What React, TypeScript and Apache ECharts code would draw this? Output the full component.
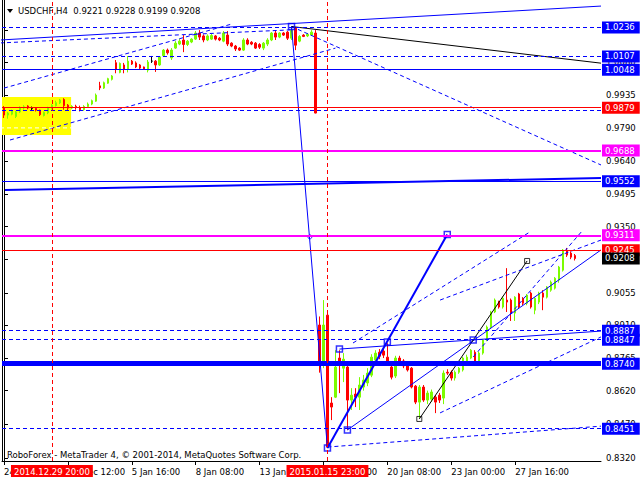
import React, { useEffect, useRef } from "react";
import * as echarts from "echarts";

// ---------- DATA ----------
const TITLE = "USDCHF,H4  0.9221 0.9228 0.9199 0.9208";
const FOOTER = "RoboForex - MetaTrader 4, \u00A9 2001-2014, MetaQuotes Software Corp.";

// H4 candles, index = bar number: [open, close, low, high]
const CANDLES: number[][] = [
  [0.9877, 0.9846, 0.9833, 0.9886], [0.9846, 0.9855, 0.983, 0.986], [0.985, 0.9864, 0.9845, 0.987], [0.984, 0.986, 0.9833, 0.9865],
  [0.986, 0.988, 0.9855, 0.9885], [0.9878, 0.9883, 0.987, 0.989], [0.9886, 0.9878, 0.9872, 0.989], [0.9875, 0.9875, 0.9864, 0.9884],
  [0.9876, 0.9868, 0.9862, 0.988], [0.9868, 0.9848, 0.9842, 0.987], [0.9844, 0.9858, 0.984, 0.9862], [0.9856, 0.9878, 0.985, 0.9883],
  [0.9876, 0.989, 0.987, 0.9895], [0.9888, 0.9901, 0.9884, 0.991], [0.99, 0.9913, 0.9895, 0.9918], [0.9915, 0.9888, 0.987, 0.9921],
  [0.989, 0.9877, 0.9868, 0.9895], [0.9877, 0.9885, 0.9872, 0.989], [0.9885, 0.9879, 0.987, 0.9892], [0.988, 0.987, 0.9862, 0.9888],
  [0.987, 0.9884, 0.9865, 0.989], [0.9884, 0.9895, 0.988, 0.9902], [0.9895, 0.991, 0.989, 0.9915], [0.9908, 0.9935, 0.9905, 0.9942],
  [0.9976, 0.9967, 0.9957, 0.9994], [0.9966, 0.999, 0.9962, 0.9995], [0.9988, 1.0008, 0.9985, 1.0012], [1.0005, 1.002, 1.0, 1.0024],
  [1.0079, 1.0049, 1.0032, 1.0091], [1.0036, 1.0076, 1.0032, 1.008], [1.0069, 1.005, 1.0032, 1.0078], [1.0049, 1.0086, 1.0036, 1.0109],
  [1.0086, 1.0073, 1.0069, 1.0091], [1.0078, 1.006, 1.0055, 1.0085], [1.0069, 1.0055, 1.005, 1.0073], [1.006, 1.005, 1.0047, 1.0062],
  [1.0046, 1.0082, 1.0036, 1.0091], [1.0086, 1.0086, 1.0078, 1.0109], [1.0086, 1.0069, 1.0038, 1.0091], [1.0069, 1.0105, 1.0065, 1.0109],
  [1.011, 1.0135, 1.0105, 1.014], [1.0135, 1.0123, 1.0115, 1.0142], [1.01, 1.0135, 1.0091, 1.0144], [1.0144, 1.0166, 1.014, 1.0175],
  [1.0162, 1.0175, 1.0157, 1.0184], [1.018, 1.016, 1.0126, 1.0202], [1.016, 1.0175, 1.0153, 1.018], [1.0171, 1.0184, 1.0166, 1.0188],
  [1.0184, 1.0211, 1.018, 1.022], [1.0211, 1.0193, 1.018, 1.0224], [1.0198, 1.018, 1.017, 1.0205], [1.018, 1.0198, 1.0175, 1.0205],
  [1.0184, 1.02, 1.018, 1.0207], [1.0198, 1.0184, 1.0178, 1.0202], [1.0188, 1.018, 1.0175, 1.0193], [1.0175, 1.0211, 1.017, 1.022],
  [1.0202, 1.0162, 1.0153, 1.022], [1.0166, 1.0153, 1.0148, 1.017], [1.0153, 1.014, 1.0131, 1.0158], [1.0144, 1.0135, 1.0131, 1.0148],
  [1.0135, 1.018, 1.0131, 1.0188], [1.018, 1.0162, 1.0157, 1.0188], [1.017, 1.0162, 1.0157, 1.0175], [1.0166, 1.0144, 1.014, 1.0171],
  [1.016, 1.0148, 1.014, 1.0166], [1.0144, 1.0166, 1.0135, 1.0171], [1.0162, 1.018, 1.0153, 1.0188], [1.018, 1.0211, 1.0175, 1.0215],
  [1.0211, 1.0193, 1.018, 1.0224], [1.0193, 1.0211, 1.0188, 1.0215], [1.0211, 1.0202, 1.0198, 1.0215], [1.0215, 1.0188, 1.018, 1.022],
  [1.0188, 1.0224, 1.018, 1.0238], [1.0233, 1.0157, 1.0135, 1.0238], [1.0175, 1.0196, 1.017, 1.0202], [1.0202, 1.0196, 1.0193, 1.0206],
  [1.0198, 1.0206, 1.0193, 1.0211], [1.0202, 1.0215, 1.0198, 1.0224], [1.0211, 0.9855, 0.9854, 1.0224], [0.8912, 0.874, 0.87, 0.895],
  [0.8735, 0.8912, 0.872, 0.9023], [0.8956, 0.8369, 0.8364, 0.897], [0.8565, 0.8547, 0.8489, 0.8591], [0.8591, 0.8725, 0.8587, 0.88],
  [0.8765, 0.8742, 0.8609, 0.88], [0.872, 0.876, 0.8658, 0.8787], [0.8725, 0.8578, 0.8445, 0.873], [0.8578, 0.86, 0.8534, 0.8631],
  [0.8605, 0.8591, 0.8547, 0.8631], [0.8591, 0.8645, 0.8534, 0.868], [0.8636, 0.8667, 0.862, 0.869], [0.8654, 0.8698, 0.864, 0.872],
  [0.8689, 0.8769, 0.868, 0.8782], [0.8756, 0.8787, 0.8745, 0.88], [0.8791, 0.8773, 0.876, 0.8805], [0.8796, 0.8778, 0.8765, 0.881],
  [0.8769, 0.8742, 0.8738, 0.8831], [0.8725, 0.868, 0.867, 0.8735], [0.8685, 0.8765, 0.8676, 0.8775], [0.8765, 0.8745, 0.8735, 0.8775],
  [0.8752, 0.873, 0.872, 0.876], [0.873, 0.8712, 0.8705, 0.874], [0.872, 0.8636, 0.863, 0.8725], [0.864, 0.8569, 0.856, 0.8645],
  [0.8569, 0.8636, 0.8498, 0.8645], [0.8636, 0.8578, 0.857, 0.8645], [0.8578, 0.8609, 0.856, 0.862], [0.8582, 0.8614, 0.857, 0.8625],
  [0.8591, 0.8569, 0.852, 0.86], [0.86, 0.8578, 0.8565, 0.861], [0.8587, 0.8698, 0.856, 0.871], [0.8702, 0.8698, 0.869, 0.8715],
  [0.8702, 0.8676, 0.8665, 0.871], [0.8676, 0.8702, 0.8665, 0.871], [0.8702, 0.872, 0.8695, 0.8725], [0.8712, 0.8765, 0.8705, 0.877],
  [0.8742, 0.8769, 0.873, 0.878], [0.8765, 0.88, 0.876, 0.8805], [0.8791, 0.8747, 0.874, 0.88], [0.875, 0.8787, 0.874, 0.8795],
  [0.8787, 0.8845, 0.878, 0.885], [0.8845, 0.8903, 0.884, 0.891], [0.8903, 0.897, 0.8895, 0.8975], [0.897, 0.9023, 0.8965, 0.903],
  [0.9014, 0.8992, 0.8985, 0.902], [0.8992, 0.9031, 0.8985, 0.904], [0.9023, 0.9014, 0.897, 0.9165], [0.9023, 0.8965, 0.893, 0.903],
  [0.8965, 0.9036, 0.893, 0.904], [0.905, 0.8992, 0.8985, 0.9055], [0.9031, 0.9009, 0.9, 0.9036], [0.9009, 0.9045, 0.9, 0.905],
  [0.9054, 0.8992, 0.8985, 0.906], [0.8978, 0.9031, 0.896, 0.9036], [0.9014, 0.9054, 0.9005, 0.906], [0.9054, 0.9036, 0.8978, 0.9067],
  [0.9036, 0.9081, 0.903, 0.9085], [0.9067, 0.9103, 0.906, 0.911], [0.9076, 0.912, 0.907, 0.9125], [0.9112, 0.917, 0.91, 0.9175],
  [0.9156, 0.9245, 0.915, 0.925], [0.9245, 0.9223, 0.9215, 0.9255], [0.9232, 0.9214, 0.9205, 0.924], [0.9221, 0.9208, 0.9199, 0.9228],
];

const X_TICKS = [0, 16, 32, 48, 64, 80, 96, 112, 128];
const X_TICK_LABELS = ["24 Dec 2014", "30 Dec 12:00", "5 Jan 16:00", "8 Jan 08:00", "13 Jan 00:00", "15 Jan 16:00", "20 Jan 08:00", "23 Jan 00:00", "27 Jan 16:00"];
const Y_TICKS = [0.832, 0.847, 0.862, 0.8765, 0.891, 0.9055, 0.9205, 0.935, 0.9495, 0.964, 0.979, 0.9935, 1.008, 1.0225];

// vertical time markers
const VLINE_BARS = [12, 81];
const VLINE_LABELS = ["2014.12.29 20:00", "2015.01.15 23:00"];

// horizontal price levels
const LEVEL_VALUES = [1.0236, 1.0107, 1.0048, 0.9879, 0.9868, 0.9688, 0.9552, 0.9311, 0.9245, 0.9208, 0.8887, 0.8847, 0.874, 0.8451];
const LEVEL_KINDS = ["blueDash", "blueDash", "blue", "red", "blueDashHidden", "magenta", "blue", "magenta", "red", "bid", "blueDash", "blueDash", "blueThick", "blueDash"];
const LEVEL_FROM: (number | null)[] = [null, null, null, null, null, null, null, null, null, 143, null, null, null, null];

// trend lines: [[bar, price], [bar, price]]
const TREND_POINTS: number[][][] = [
  [[-1, 1.018], [149.5, 1.0331]],
  [[-1, 1.0167], [71.6, 1.0225]],
  [[0, 0.9966], [57, 1.0251]],
  [[1.5, 0.9735], [83, 1.0144]],
  [[72, 1.024], [81, 0.8365]],
  [[72, 1.024], [149.5, 0.9624]],
  [[72, 1.024], [149.5, 1.0077]],
  [[0.25, 0.9513], [149.5, 0.9566]],
  [[81, 0.8365], [111, 0.9315]],
  [[84, 0.8805], [149.5, 0.8885]],
  [[86, 0.8445], [149.5, 0.9246]],
  [[104, 0.8494], [131, 0.9197]],
  [[81, 0.8369], [149.5, 0.8462]],
  [[87.4, 0.8832], [131.7, 0.9326]],
  [[109.2, 0.9023], [149.5, 0.929]],
  [[117.5, 0.877], [145, 0.9335]],
  [[109.2, 0.8521], [149.5, 0.8859]],
  [[-1, 0.9789], [16.8, 0.9789]],
];
const TREND_KINDS = ["blue", "blueDash", "blueDash", "blueDash", "blue", "blueDash", "black", "blue2", "blue2", "blue", "blue", "black", "blueDash", "blueDash", "blueDash", "blueDash", "blueDash", "whiteDash"];

// object anchor points
const BLUE_ANCHORS = [[72, 1.024], [81, 0.8365], [111, 0.9315], [84, 0.8805], [96, 0.8836], [86, 0.8445], [117.5, 0.8845]];
const BLACK_ANCHORS = [[104, 0.8494], [131, 0.9197]];
const CIRCLE_ANCHORS = [[76.6, 0.9304]];

// highlighted zone (yellow rectangle)
const ZONE = [[-1, 0.9757], [16.8, 0.9926]];

// ---------- STYLE ----------
const BLUE = "#0000FF";
const RED = "#FF0000";
const MAGENTA = "#FF00FF";
const GREEN = "#7CFC00";
const FONT = "DejaVu Sans";
const FS = 8.5;
const X_MIN = -0.5;
const X_MAX = 149.5;
const Y_MIN = 0.8307;
const Y_MAX = 1.0358;

const LEVEL_STYLE: Record<string, any> = {
  blueDash: { line: { color: BLUE, width: 1, type: [4, 3] }, bg: BLUE },
  blueDashHidden: { line: { color: BLUE, width: 1, type: [4, 3] }, bg: null },
  blue: { line: { color: BLUE, width: 1, type: "solid" }, bg: BLUE },
  blueThick: { line: { color: BLUE, width: 5, type: "solid" }, bg: BLUE },
  red: { line: { color: RED, width: 1, type: "solid" }, bg: RED },
  magenta: { line: { color: MAGENTA, width: 2, type: "solid" }, bg: MAGENTA },
  bid: { line: { color: "rgba(0,0,0,0)", width: 0.1, type: "solid" }, bg: "#000" },
};

const TREND_STYLE: Record<string, any> = {
  blue: { color: BLUE, width: 1, type: "solid" },
  blue2: { color: BLUE, width: 2, type: "solid" },
  blueDash: { color: BLUE, width: 1, type: [4, 3] },
  black: { color: "#000", width: 1, type: "solid" },
  whiteDash: { color: "#FFFFFF", width: 1, type: [4, 3] },
};

function buildOption(): any {
  const candleData = CANDLES.map((c, i) => {
    const item: any = { value: [i, c[0], c[1], c[2], c[3]] };
    if (c[0] === c[1]) {
      item.itemStyle = { color: "#000", color0: "#000", borderColor: "#000", borderColor0: "#000" };
    }
    return item;
  });

  const levelLines: any[] = LEVEL_VALUES.map((v, i) => {
    const st = LEVEL_STYLE[LEVEL_KINDS[i]];
    const label = st.bg
      ? {
          show: true,
          position: "end",
          distance: 1,
          formatter: v.toFixed(4),
          color: "#fff",
          opacity: 1,
          fontFamily: FONT,
          fontSize: FS,
          backgroundColor: st.bg,
          padding: [2, 5, 1, 3],
        }
      : { show: false };
    const from = LEVEL_FROM[i];
    if (from == null) {
      return { yAxis: v, lineStyle: st.line, label };
    }
    return [
      { coord: [from, v], lineStyle: st.line, label },
      { coord: [X_MAX, v] },
    ];
  });

  const vLines: any[] = VLINE_BARS.map((b, i) => ({
    xAxis: b,
    lineStyle: { color: RED, width: 1, type: [4, 3] },
    label: {
      show: true,
      position: "start",
      distance: 4,
      formatter: VLINE_LABELS[i],
      color: "#fff",
      fontFamily: FONT,
      fontSize: FS,
      backgroundColor: RED,
      padding: [2, 3, 1, 3],
    },
  }));

  const trendSeries = TREND_POINTS.map((pts, i) => ({
    type: "line",
    data: pts,
    symbol: "none",
    silent: true,
    z: 3,
    lineStyle: TREND_STYLE[TREND_KINDS[i]],
    animation: false,
  }));

  return {
    animation: false,
    backgroundColor: "#fff",
    grid: { left: 2, right: 39, top: 0, bottom: 19, containLabel: false, outerBoundsMode: "none" },
    xAxis: {
      type: "value",
      min: X_MIN,
      max: X_MAX,
      splitLine: { show: false },
      axisLine: { show: true, onZero: false, lineStyle: { color: "#000", width: 1 } },
      axisTick: { show: true, length: 4, customValues: X_TICKS, lineStyle: { color: "#000" } },
      axisLabel: {
        customValues: X_TICKS,
        formatter: (v: number) => {
          const k = X_TICKS.indexOf(Math.round(v));
          return k >= 0 ? X_TICK_LABELS[k] : "";
        },
        align: "left",
        margin: 6,
        color: "#000",
        fontFamily: FONT,
        fontSize: FS,
      },
    },
    yAxis: [
      {
        type: "value",
        position: "right",
        min: Y_MIN,
        max: Y_MAX,
        splitLine: { show: false },
        axisLine: { show: true, lineStyle: { color: "#000", width: 1 } },
        axisTick: { show: true, length: 4, customValues: Y_TICKS, lineStyle: { color: "#000" } },
        axisLabel: {
          customValues: Y_TICKS,
          formatter: (v: number) => v.toFixed(4),
          margin: 5,
          color: "#000",
          fontFamily: FONT,
          fontSize: FS,
        },
      },
      {
        type: "value",
        position: "left",
        min: Y_MIN,
        max: Y_MAX,
        splitLine: { show: false },
        axisLine: { show: true, lineStyle: { color: "#000", width: 1 } },
        axisTick: { show: false },
        axisLabel: { show: false },
      },
    ],
    series: [
      {
        type: "candlestick",
        data: candleData,
        barWidth: 2,
        z: 2,
        silent: true,
        itemStyle: {
          color: GREEN,
          color0: RED,
          borderColor: GREEN,
          borderColor0: RED,
          borderColorDoji: "#000",
          borderWidth: 1,
        },
        markArea: {
          silent: true,
          itemStyle: { color: "#FFFF00", opacity: 1 },
          data: [[{ coord: ZONE[0] }, { coord: ZONE[1] }]],
        },
        markLine: {
          silent: true,
          symbol: ["none", "none"],
          precision: 4,
          animation: false,
          z: 5,
          data: [...levelLines, ...vLines],
        },
      },
      ...trendSeries,
      {
        type: "scatter",
        data: BLUE_ANCHORS,
        symbol: "rect",
        symbolSize: 6,
        z: 4,
        silent: true,
        itemStyle: { color: "rgba(255,255,255,0)", borderColor: BLUE, borderWidth: 1.5 },
      },
      {
        type: "scatter",
        data: BLACK_ANCHORS,
        symbol: "rect",
        symbolSize: 5,
        z: 4,
        silent: true,
        itemStyle: { color: "rgba(255,255,255,0)", borderColor: "#000", borderWidth: 1 },
      },
      {
        type: "scatter",
        data: CIRCLE_ANCHORS,
        symbol: "circle",
        symbolSize: 4,
        z: 4,
        silent: true,
        itemStyle: { color: "rgba(255,255,255,0)", borderColor: BLUE, borderWidth: 1 },
      },
    ],
    graphic: [
      { type: "polygon", z: 10, shape: { points: [[7, 9], [13, 9], [10, 13]] }, style: { fill: "#000" } },
      { type: "text", z: 10, left: 18, top: 6, style: { text: TITLE, fontFamily: FONT, fontSize: FS, fill: "#000" } },
      { type: "text", z: 10, left: 7, top: 450, style: { text: FOOTER, fontFamily: FONT, fontSize: FS, fill: "#000" } },
    ],
  };
}

export default function App() {
  const ref = useRef<HTMLDivElement>(null);
  useEffect(() => {
    if (!ref.current) return;
    const chart = echarts.init(ref.current, null, { renderer: "svg" });
    chart.setOption(buildOption());
    return () => chart.dispose();
  }, []);
  return (
    <div
      ref={ref}
      style={{ position: "absolute", left: 0, top: 0, width: 640, height: 480, background: "#fff" }}
    />
  );
}
